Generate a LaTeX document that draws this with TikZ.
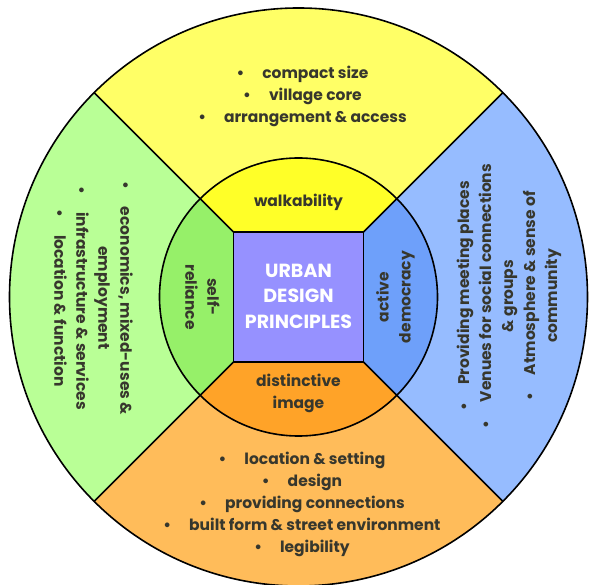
\documentclass[tikz,border=0pt]{standalone}
\usepackage{fontspec}
\setmainfont{Poppins}

\definecolor{yellowout}{RGB}{255,255,102}
\definecolor{yellowin}{RGB}{255,255,40}
\definecolor{greenout}{RGB}{185,255,150}
\definecolor{greenin}{RGB}{150,240,105}
\definecolor{blueout}{RGB}{150,188,255}
\definecolor{bluein}{RGB}{110,160,250}
\definecolor{orangeout}{RGB}{255,188,90}
\definecolor{orangein}{RGB}{255,163,40}
\definecolor{centre}{RGB}{150,145,255}
\definecolor{txt}{RGB}{55,55,45}

\begin{document}
\begin{tikzpicture}[x=1pt,y=1pt,
        label/.style={font=\bfseries\fontsize{15.5}{22}\selectfont, text=txt, align=center},
        title/.style={font=\bfseries\fontsize{19}{25.5}\selectfont, text=white, align=center}]
        \useasboundingbox (-298.5,-288) rectangle (292.5,297);

        % outer ring
        \fill[yellowout] (0,0) -- (45:289) arc (45:135:289) -- cycle;
        \fill[greenout] (0,0) -- (135:289) arc (135:225:289) -- cycle;
        \fill[orangeout] (0,0) -- (225:289) arc (225:315:289) -- cycle;
        \fill[blueout] (0,0) -- (-45:289) arc (-45:45:289) -- cycle;

        % inner ring
        \fill[yellowin] (0,0) -- (45:139) arc (45:135:139) -- cycle;
        \fill[greenin] (0,0) -- (135:139) arc (135:225:139) -- cycle;
        \fill[orangein] (0,0) -- (225:139) arc (225:315:139) -- cycle;
        \fill[bluein] (0,0) -- (-45:139) arc (-45:45:139) -- cycle;

        \draw[line width=1.6pt] (0,0) circle (289);
        \draw[line width=1.6pt] (0,0) circle (139);
        \foreach \a in {45,135,225,315}
            \draw[line width=1.6pt] (\a:91.9) -- (\a:289);
        \filldraw[fill=centre, line width=1.6pt] (-65,-65) rectangle (65,65);

        \node[title] (udp) at (0,1) {URBAN\\DESIGN\\PRINCIPLES};

        \node[label] (walk) at (0,95) {walkability};
        \node[label] (image) at (0,-96) {distinctive\\image};
        \node[label, rotate=-90] (self) at (-96,0) {self-\\reliance};
        \node[label, rotate=90] (demo) at (97,0) {active\\democracy};

        \node[label] (form) at (4,201) {\textbullet\hspace{18pt}compact size\\
            \textbullet\hspace{18pt}village core\\
            \textbullet\hspace{18pt}arrangement \& access};
        \node[label] (place) at (3.5,-207) {\textbullet\hspace{18pt}location \& setting\\
            \textbullet\hspace{18pt}design\\
            \textbullet\hspace{18pt}providing connections\\
            \textbullet\hspace{18pt}built form \& street environment\\
            \textbullet\hspace{18pt}legibility};
        \node[label, rotate=-90] (econ) at (-205,-1) {\textbullet\hspace{18pt}economics, mixed-uses \&\\
            employment\\
            \textbullet\hspace{18pt}infrastructure \& services\\
            \textbullet\hspace{18pt}location \& function};
        \node[label, rotate=90] (social) at (210.5,1) {\textbullet\hspace{18pt}Providing meeting places\\
            \textbullet\hspace{18pt}Venues for social connections\\
            \& groups\\
            \textbullet\hspace{18pt}Atmosphere \& sense of\\
            community};

\end{tikzpicture}
\end{document}
